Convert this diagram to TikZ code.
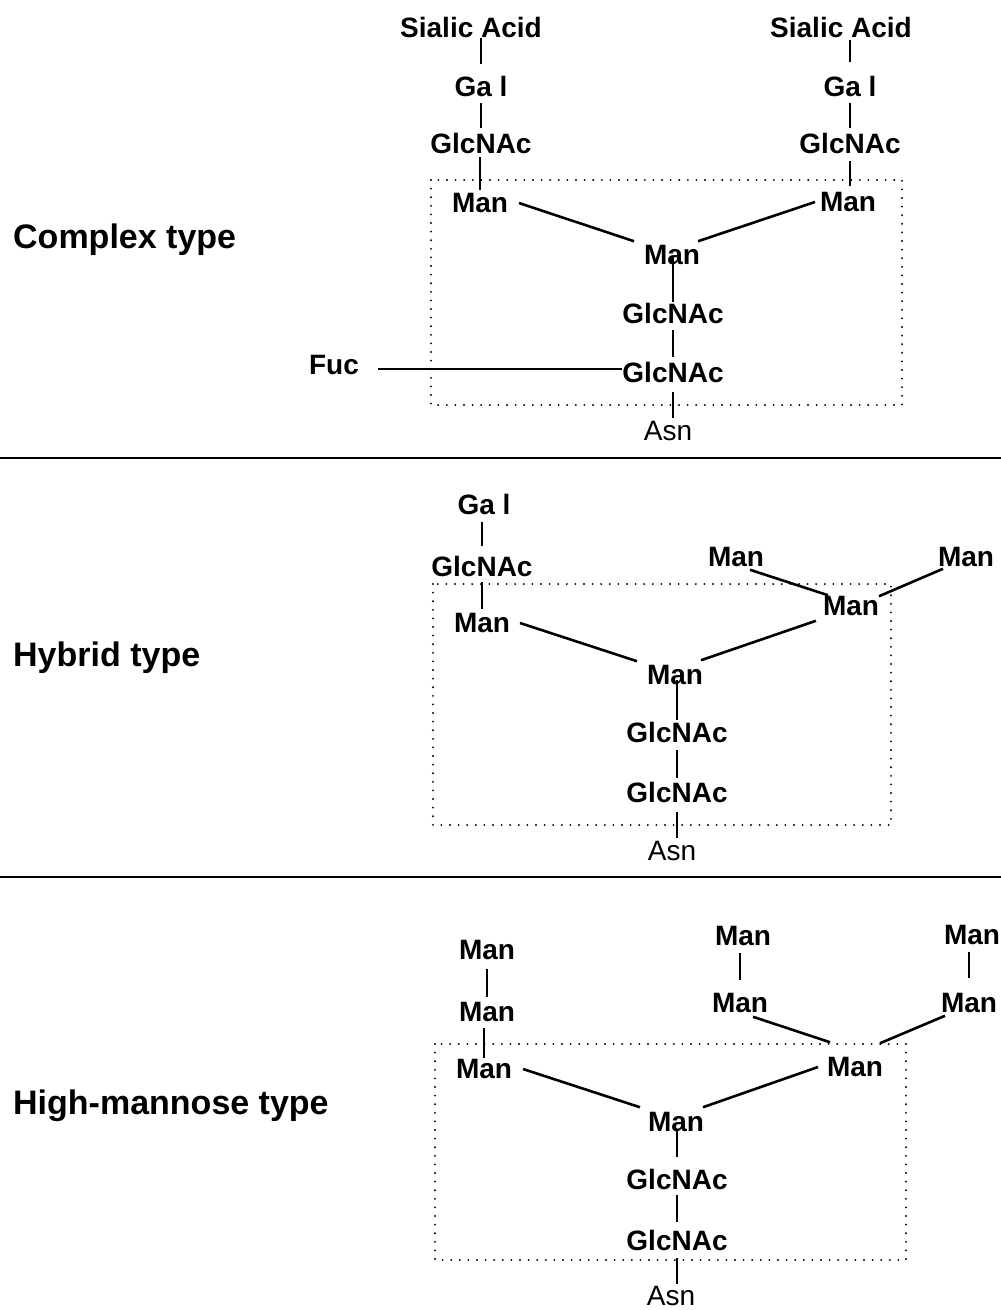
\documentclass[tikz,border=0pt]{standalone}
\usepackage{fontspec}
\setmainfont{Liberation Sans}
\begin{document}
\begin{tikzpicture}[x=1pt,y=-1pt,
  lbl/.style={font=\fontsize{28}{30}\selectfont\bfseries, inner sep=0pt, outer sep=0pt},
  asnlbl/.style={font=\fontsize{28}{30}\selectfont, inner sep=0pt, outer sep=0pt},
  head/.style={font=\fontsize{34}{36}\selectfont\bfseries, inner sep=0pt, anchor=base west},
  bond/.style={line width=2.6pt},
  vlink/.style={line width=1.9pt},
  core/.style={line width=2.1pt, line cap=round, dash pattern=on 0pt off 8.6pt},
  rule/.style={line width=2.4pt}]
\fill[white] (0,0) rectangle (1001,1310);
\useasboundingbox (0,0) rectangle (1001,1310);

% ---------------- Complex type ----------------
\node[head] (hc) at (13,248) {Complex type};
\draw[core] (431,180) rectangle (902,405);

\node[lbl] (sa1) at (471,27) {Sialic Acid};
\node[lbl] (ga1) at (481,86) {Ga l};
\node[lbl] (gn1) at (481,143) {GlcNAc};
\node[lbl] (mL1) at (480,203) {Man};
\node[lbl] (sa2) at (841,27) {Sialic Acid};
\node[lbl] (ga2) at (850,86) {Ga l};
\node[lbl] (gn2) at (850,143) {GlcNAc};
\node[lbl] (mR1) at (848,202) {Man};
\node[lbl] (mC1) at (672,255) {Man};
\node[lbl] (gA1) at (673,313) {GlcNAc};
\node[lbl] (gB1) at (673,372) {GlcNAc};
\node[asnlbl] (asn1) at (668,431) {Asn};
\node[lbl] (fuc) at (334,365) {Fuc};

\draw[vlink, shorten <=1pt, shorten >=12pt] (sa1.south -| ga1.north) -- (ga1.north);
\draw[vlink, shorten <=7pt, shorten >=5pt] (ga1.south) -- (gn1.north);
\draw[vlink, shorten <=4pt, shorten >=3pt] (gn1.south -| mL1.north) -- (mL1.north);
\draw[vlink, shorten <=3pt, shorten >=14pt] (sa2.south -| ga2.north) -- (ga2.north);
\draw[vlink, shorten <=7pt, shorten >=5pt] (ga2.south) -- (gn2.north);
\draw[vlink, shorten <=8pt, shorten >=6pt] (gn2.south) -- (gn2.south |- mR1.north);
\draw[vlink, shorten <=-8pt, shorten >=1pt] (mC1.south -| gA1.north) -- (gA1.north);
\draw[vlink, shorten <=7pt, shorten >=5pt] (gA1.south) -- (gB1.north);
\draw[vlink, shorten <=10pt, shorten >=3pt] (gB1.south) -- (gB1.south |- asn1.north);
\draw[bond] ([xshift=11pt]mL1.east) -- ([xshift=-10pt,yshift=4pt]mC1.north west);
\draw[bond] ([xshift=-5pt]mR1.west) -- ([xshift=-2pt,yshift=4pt]mC1.north east);
\draw[bond] ([xshift=19pt,yshift=-4pt]fuc.east) -- ([yshift=3pt]gB1.west);

\draw[rule] (0,458) -- (1001,458);

% ---------------- Hybrid type ----------------
\node[head] (hh) at (13,666) {Hybrid type};
\draw[core] (433,584) rectangle (891,825);

\node[lbl] (ga3) at (484,504) {Ga l};
\node[lbl] (gn3) at (482,566) {GlcNAc};
\node[lbl] (mL2) at (482,623) {Man};
\node[lbl] (mT2) at (736,557) {Man};
\node[lbl] (mF2) at (966,557) {Man};
\node[lbl] (mR2) at (851,606) {Man};
\node[lbl] (mC2) at (675,675) {Man};
\node[lbl] (gA2) at (677,732) {GlcNAc};
\node[lbl] (gB2) at (677,792) {GlcNAc};
\node[asnlbl] (asn2) at (672,851) {Asn};

\draw[vlink, shorten <=8pt, shorten >=10pt] (ga3.south -| gn3.north) -- (gn3.north);
\draw[vlink, shorten <=6pt, shorten >=4pt] (gn3.south) -- (mL2.north);
\draw[vlink, shorten <=-5pt, shorten >=2pt] (mC2.south -| gA2.north) -- (gA2.north);
\draw[vlink, shorten <=8pt, shorten >=4pt] (gA2.south) -- (gB2.north);
\draw[vlink, shorten <=10pt, shorten >=3pt] (gB2.south) -- (gB2.south |- asn2.north);
\draw[bond] ([xshift=14pt,yshift=-3pt]mT2.south) -- ([xshift=5pt,yshift=1pt]mR2.north west);
\draw[bond] ([xshift=5pt,yshift=-2pt]mF2.south west) -- (mR2.north east);
\draw[bond] ([xshift=-7pt,yshift=-5pt]mR2.south west) -- ([xshift=-2pt,yshift=5pt]mC2.north east);
\draw[bond] ([xshift=10pt]mL2.east) -- ([xshift=-10pt,yshift=4pt]mC2.north west);

\draw[rule] (0,877) -- (1001,877);

% ---------------- High-mannose type ----------------
\node[head] (hm) at (13,1114) {High-mannose type};
\draw[core] (435,1044) rectangle (906,1260);

\node[lbl] (mL3a) at (487,950) {Man};
\node[lbl] (mL3b) at (487,1012) {Man};
\node[lbl] (mL3) at (484,1069) {Man};
\node[lbl] (mM3a) at (743,936) {Man};
\node[lbl] (mM3b) at (740,1003) {Man};
\node[lbl] (mF3a) at (972,935) {Man};
\node[lbl] (mF3b) at (969,1003) {Man};
\node[lbl] (mR3) at (855,1067) {Man};
\node[lbl] (mC3) at (676,1122) {Man};
\node[lbl] (gA3) at (677,1179) {GlcNAc};
\node[lbl] (gB3) at (677,1240) {GlcNAc};
\node[asnlbl] (asn3) at (671,1296) {Asn};

\draw[vlink, shorten <=9pt, shorten >=5pt] (mL3a.south) -- (mL3b.north);
\draw[vlink, shorten <=6pt, shorten >=1pt] (mL3b.south -| mL3.north) -- (mL3.north);
\draw[vlink, shorten <=7pt, shorten >=13pt] (mM3a.south -| mM3b.north) -- (mM3b.north);
\draw[vlink, shorten <=7pt, shorten >=15pt] (mF3a.south -| mF3b.north) -- (mF3b.north);
\draw[vlink, shorten <=-3pt, shorten >=12pt] (mC3.south -| gA3.north) -- (gA3.north);
\draw[vlink, shorten <=6pt, shorten >=8pt] (gA3.south) -- (gB3.north);
\draw[vlink, shorten <=8pt, shorten >=2pt] (gB3.south) -- (gB3.south |- asn3.north);
\draw[bond] ([xshift=13pt,yshift=-4pt]mM3b.south) -- ([xshift=3pt,yshift=15pt]mR3.north west);
\draw[bond] ([xshift=4pt,yshift=-3pt]mF3b.south west) -- ([xshift=-3pt,yshift=14pt]mR3.north east);
\draw[bond] ([xshift=-9pt]mR3.west) -- ([xshift=-1pt,yshift=5pt]mC3.north east);
\draw[bond] ([xshift=11pt]mL3.east) -- ([xshift=-8pt,yshift=5pt]mC3.north west);
\end{tikzpicture}
\end{document}
